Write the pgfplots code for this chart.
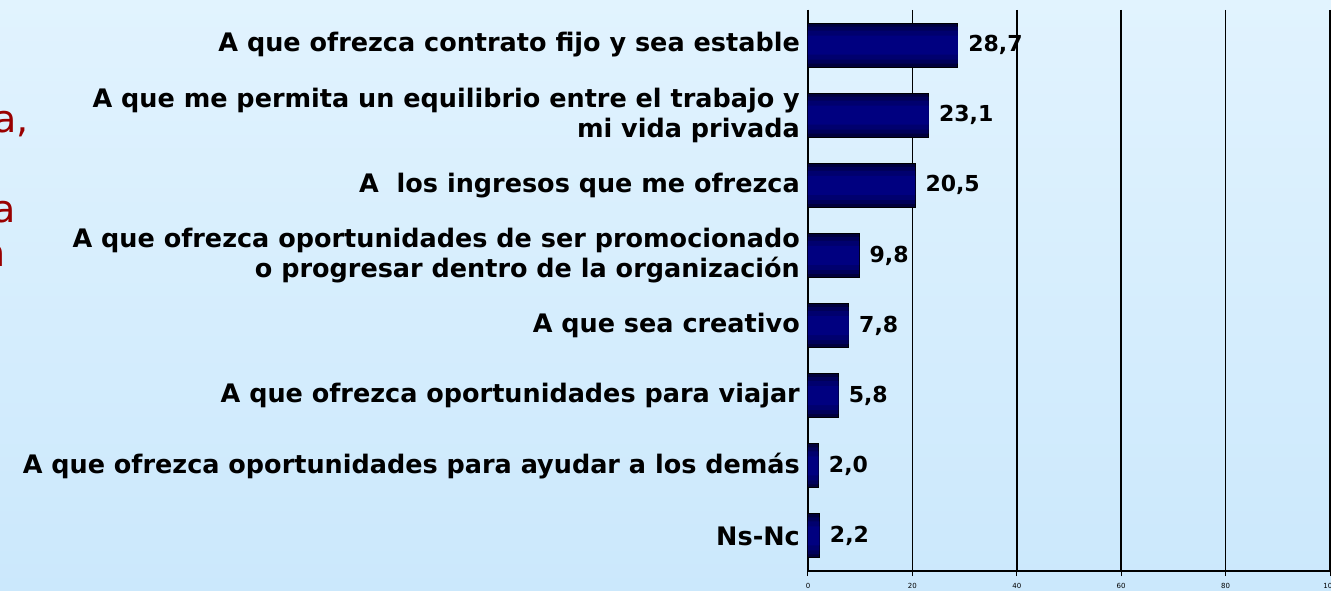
\documentclass[border=0pt]{standalone}
\usepackage{fontspec}
\setmainfont{DejaVu Sans}
\usepackage{pgfplots}
\pgfplotsset{compat=1.18}
\definecolor{bgtop}{HTML}{E1F3FE}
\definecolor{bgbot}{HTML}{CBE8FC}
\definecolor{barA}{HTML}{00003C}
\definecolor{barB}{HTML}{000058}
\definecolor{barC}{HTML}{00006E}
\definecolor{barD}{HTML}{000080}
\definecolor{titlered}{HTML}{990000}
\pgfplotstableread{
v y
28.7 0
23.1 1
20.5 2
9.8 3
7.8 4
5.8 5
2.0 6
2.2 7
}\datatable
\begin{document}
\begin{tikzpicture}[x=1pt,y=1pt]
\useasboundingbox (0,0) rectangle (1331,591);
\clip (0,0) rectangle (1331,591);
\shade[top color=bgtop, bottom color=bgbot] (0,0) rectangle (1331,591);
\node[anchor=base east, text=titlered, font=\fontsize{38}{40}\selectfont, inner sep=0pt] at (29,458) {a,};
\node[anchor=base east, text=titlered, font=\fontsize{38}{40}\selectfont, inner sep=0pt] at (16,368) {a};
\node[anchor=base east, text=titlered, font=\fontsize{38}{40}\selectfont, inner sep=0pt] at (6,324) {n};
\begin{axis}[
  at={(808pt,20pt)}, anchor=south west,
  width=522pt, height=561pt, scale only axis,
  xbar, bar shift=0pt, xmin=0, xmax=100, ymin=-0.5, ymax=7.5, y dir=reverse,
  axis x line*=bottom, axis y line*=left,
  axis line style={black, line width=1.5pt},
  xtick={0,20,...,100}, xmajorgrids, major grid style={black, line width=1.5pt},
  tick align=outside, major tick length=5pt,
  xtick style={black, line width=1pt},
  ytick={0,...,7}, ytick style={draw=none},
  yticklabels={A que ofrezca contrato fijo y sea estable,
    {A que me permita un equilibrio entre el trabajo y\\mi vida privada},
    {A \ los ingresos que me ofrezca},
    {A que ofrezca oportunidades de ser promocionado\\o progresar dentro de la organización},
    A que sea creativo,
    A que ofrezca oportunidades para viajar,
    A que ofrezca oportunidades para ayudar a los demás,
    Ns-Nc},
  yticklabel style={font=\bfseries\fontsize{25.5}{30}\selectfont, align=right, inner sep=0pt, xshift=-3pt},
  xticklabel style={font=\fontsize{7}{8}\selectfont, yshift=-4pt},
  /pgf/number format/assume math mode=true,
]
\addplot[draw=black, line width=1pt, fill=barA, bar width=44pt,
  point meta=x,
  nodes near coords={\pgfmathprintnumber[fixed, fixed zerofill, precision=1, use comma]{\pgfplotspointmeta}},
  nodes near coords style={font=\bfseries\fontsize{22}{24}\selectfont, black, anchor=west, xshift=10pt, inner sep=0pt}]
  table[x=v, y=y] {\datatable};
\addplot[draw=none, fill=barB, bar width=37pt] table[x=v, y=y] {\datatable};
\addplot[draw=none, fill=barC, bar width=29pt] table[x=v, y=y] {\datatable};
\addplot[draw=none, fill=barD, bar width=19pt] table[x=v, y=y] {\datatable};
\end{axis}
\end{tikzpicture}
\end{document}
